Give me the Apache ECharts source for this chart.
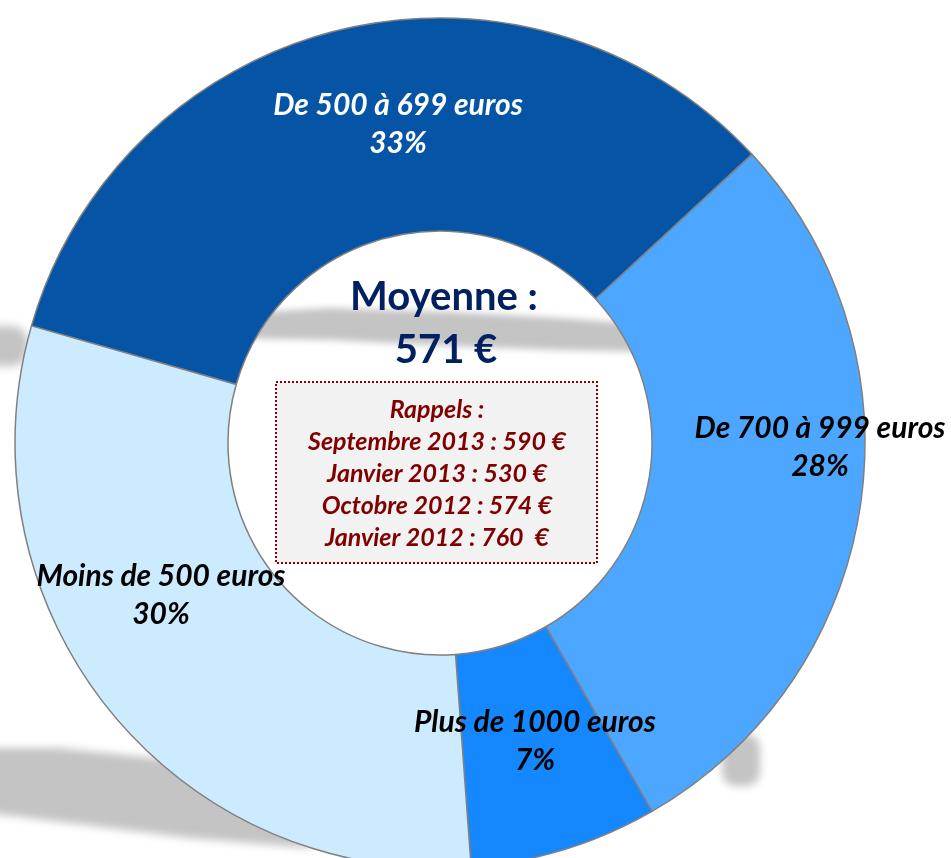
<!DOCTYPE html>
<html>
<head>
<meta charset="utf-8">
<script src="https://cdn.jsdelivr.net/npm/echarts@6/dist/echarts.min.js"></script>
<style>
  html, body { margin: 0; padding: 0; background: #fff; }
  #chart { width: 951px; height: 858px; }
</style>
</head>
<body>
<div id="chart"></div>
<script>
// Données
const categories = ['De 500 à 699 euros', 'De 700 à 999 euros', 'Plus de 1000 euros', 'Moins de 500 euros'];
const percents = [33, 28, 7, 30];
const sliceColors = ['#0554A6', '#4DA6FF', '#1688FF', '#CCEBFF'];
const labelColors = ['#ffffff', '#000000', '#000000', '#000000'];

const averageTitle = 'Moyenne :';
const averageValue = '571 €';
const reminders = [
  'Rappels :',
  'Septembre 2013 : 590 €',
  'Janvier 2013 : 530 €',
  'Octobre 2012 : 574 €',
  'Janvier 2012 : 760  €'
];

// Position des étiquettes (centre du bloc de texte)
const labelPos = [[398, 124], [820, 447], [535, 741], [161, 595]];

const chart = echarts.init(document.getElementById('chart'));

// ombre floue : la forme est dessinée hors champ, seule son ombre est visible
const SHIFT = 2000;
function blurShape(type, shape, blur) {
  const s = JSON.parse(JSON.stringify(shape));
  if (s.points) s.points = s.points.map(p => [p[0] - SHIFT, p[1]]);
  else s.x -= SHIFT;
  return {
    type, z: 0, silent: true, shape: s,
    style: {
      fill: '#c4c4c4',
      shadowColor: '#c4c4c4',
      shadowBlur: blur,
      shadowOffsetX: SHIFT
    }
  };
}

const option = {
  backgroundColor: '#ffffff',
  animation: false,
  graphic: [
    blurShape('polygon', { points: [[-20, 748], [60, 748], [190, 762], [310, 805], [310, 848], [190, 838], [-20, 812]] }, 8),
    blurShape('rect', { x: -20, y: 326, width: 48, height: 40, r: 16 }, 10),
    blurShape('polygon', { points: [[225, 314], [330, 308], [450, 312], [560, 318], [665, 326], [665, 352], [560, 350], [450, 346], [330, 340], [225, 338]] }, 7),
    blurShape('rect', { x: 722, y: 734, width: 38, height: 52, r: 14 }, 9),
    // texte central
    {
      type: 'text', z: 10, silent: true,
      x: 444, y: 297,
      style: {
        text: averageTitle,
        fill: '#002060',
        font: 'bold 40px Lato',
        align: 'center',
        verticalAlign: 'middle'
      }
    },
    {
      type: 'text', z: 10, silent: true,
      x: 446, y: 350,
      style: {
        text: averageValue,
        fill: '#002060',
        font: 'bold 40px Lato',
        align: 'center',
        verticalAlign: 'middle'
      }
    },
    {
      type: 'rect', z: 10, silent: true,
      shape: { x: 276, y: 382, width: 321, height: 181 },
      style: {
        fill: '#F2F2F2',
        stroke: '#8B0000',
        lineWidth: 2,
        lineDash: [2, 2]
      }
    },
    {
      type: 'text', z: 11, silent: true,
      x: 437, y: 474,
      style: {
        text: reminders.join('\n'),
        fill: '#800000',
        font: 'italic bold 25px Lato',
        lineHeight: 32,
        align: 'center',
        verticalAlign: 'middle'
      }
    }
  ],
  series: [
    {
      type: 'pie',
      z: 2,
      center: [440, 443],
      radius: [212, 425],
      startAngle: 164,
      clockwise: true,
      avoidLabelOverlap: false,
      silent: true,
      emphasis: { disabled: true },
      itemStyle: {
        borderColor: '#808080',
        borderWidth: 1.5
      },
      label: {
        show: true,
        position: 'inside',
        formatter: (p) => `${p.name}\n${p.value}%`,
        fontFamily: 'Lato',
        fontSize: 30,
        fontWeight: 'bold',
        fontStyle: 'italic',
        lineHeight: 38,
        align: 'center',
        verticalAlign: 'middle'
      },
      labelLayout: (params) => ({
        x: labelPos[params.dataIndex][0],
        y: labelPos[params.dataIndex][1],
        hideOverlap: false
      }),
      data: categories.map((name, i) => ({
        name,
        value: percents[i],
        itemStyle: { color: sliceColors[i] },
        label: { color: labelColors[i] }
      }))
    }
  ]
};

chart.setOption(option);
</script>
</body>
</html>
